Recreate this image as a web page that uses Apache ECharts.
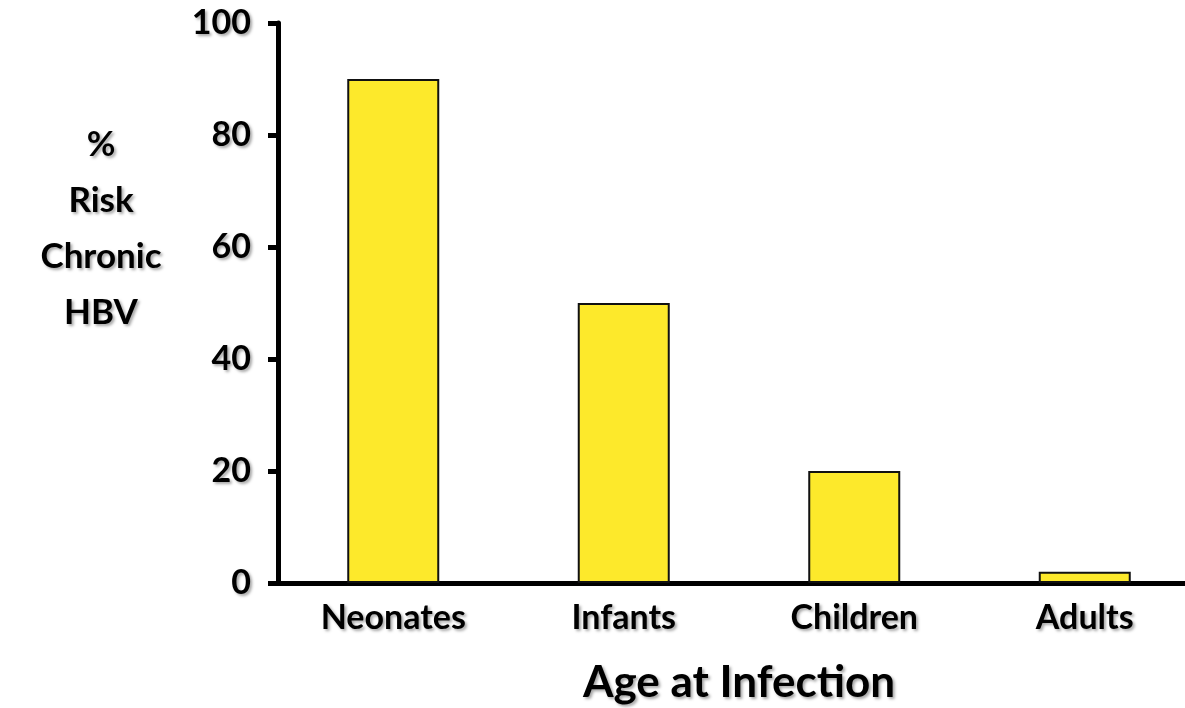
<!DOCTYPE html>
<html>
<head>
<meta charset="utf-8">
<script src="https://cdn.jsdelivr.net/npm/echarts@6/dist/echarts.min.js"></script>
<style>
  html, body { margin: 0; padding: 0; background: #ffffff; }
  #chart { width: 1185px; height: 708px; }
</style>
</head>
<body>
<div id="chart"></div>
<script>
// Age groups and the percentage who go on to chronic HBV infection
const categories = ['Neonates', 'Infants', 'Children', 'Adults'];
const riskValues = [90, 50, 20, 2];
const yTicks = [0, 20, 40, 60, 80, 100];
const yAxisTitleLines = ['%', 'Risk', 'Chronic', 'HBV'];
const xAxisTitle = 'Age at Infection';

const FONT = 'Lato, "Open Sans", sans-serif';
const shadow = {
  textShadowColor: 'rgba(0,0,0,0.35)',
  textShadowBlur: 3,
  textShadowOffsetX: 2,
  textShadowOffsetY: 2
};

const chart = echarts.init(document.getElementById('chart'), null, { renderer: 'canvas' });

chart.setOption({
  animation: false,
  backgroundColor: '#ffffff',
  // plot area runs past the right edge so the baseline reaches the border
  grid: {
    left: 278, top: 23, width: 922, height: 560,
    containLabel: false,
    outerBoundsMode: 'none'
  },
  xAxis: {
    type: 'category',
    data: categories,
    axisLine: { show: true, lineStyle: { color: '#000', width: 5 } },
    axisTick: { show: false },
    axisLabel: {
      color: '#000', fontFamily: FONT, fontWeight: 'bold', fontSize: 34,
      margin: 18, ...shadow
    },
    name: xAxisTitle,
    nameLocation: 'middle',
    nameGap: 78,
    nameTextStyle: {
      color: '#000', fontFamily: FONT, fontWeight: 'bold', fontSize: 44, ...shadow
    }
  },
  yAxis: {
    type: 'value',
    min: yTicks[0],
    max: yTicks[yTicks.length - 1],
    interval: yTicks[1] - yTicks[0],
    axisLine: { show: true, lineStyle: { color: '#000', width: 5 } },
    axisTick: { show: true, inside: false, length: 10, lineStyle: { color: '#000', width: 5 } },
    splitLine: { show: false },
    axisLabel: {
      color: '#000', fontFamily: FONT, fontWeight: 'bold', fontSize: 34,
      margin: 27, ...shadow
    }
  },
  graphic: [{
    type: 'text',
    x: 101,
    y: 229,
    style: {
      text: yAxisTitleLines.join('\n'),
      fill: '#000',
      font: 'bold 35px ' + FONT,
      lineHeight: 56,
      align: 'center',
      verticalAlign: 'middle',
      textShadowColor: 'rgba(0,0,0,0.35)',
      textShadowBlur: 3,
      textShadowOffsetX: 2,
      textShadowOffsetY: 2
    }
  }],
  series: [{
    type: 'bar',
    data: riskValues,
    barWidth: 92,
    itemStyle: { color: '#FDE92B', borderColor: '#111', borderWidth: 2 }
  }]
});
</script>
</body>
</html>
